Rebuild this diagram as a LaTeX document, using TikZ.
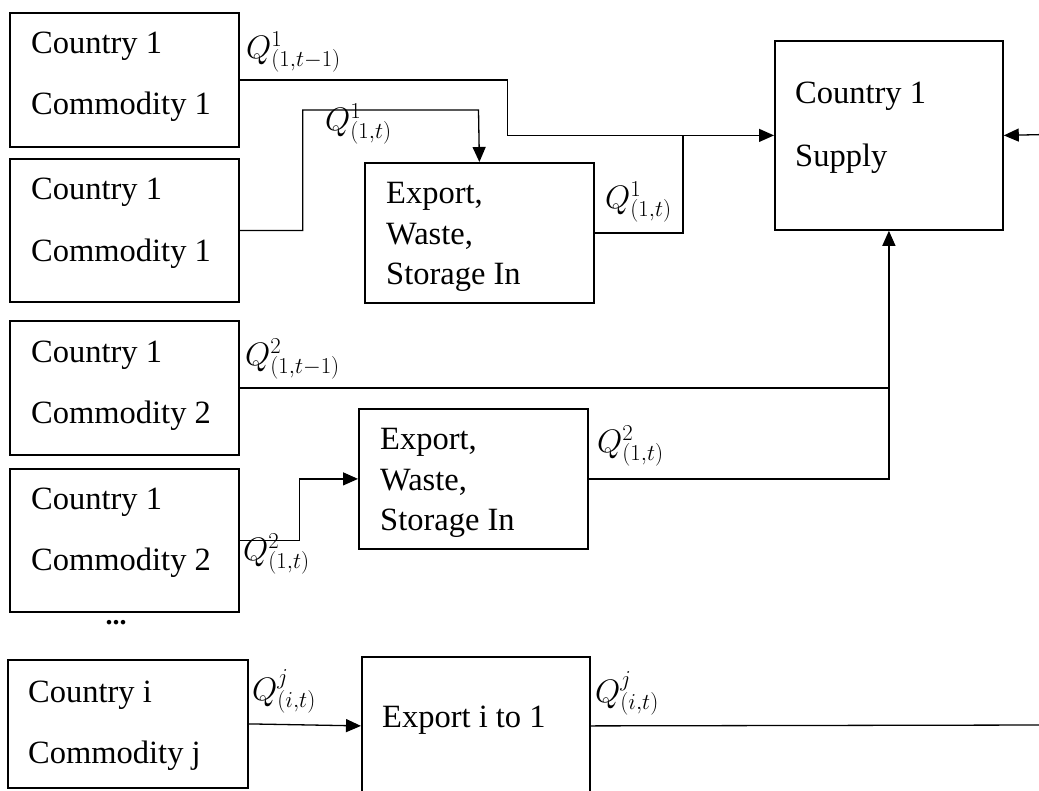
\RequirePackage{fix-cm}
\documentclass[tikz,border=0pt]{standalone}
\usepackage{fontspec}
\setmainfont{Liberation Serif}
\usetikzlibrary{arrows.meta}
\begin{document}
\begin{tikzpicture}[x=1pt,y=-1pt,
  box/.style={draw, line width=1.8pt, inner sep=0pt, anchor=north west},
  txt/.style={anchor=base west, inner sep=0pt, font=\fontsize{32.5}{39}\selectfont},
  lbl/.style={anchor=base west, inner sep=0pt, font=\fontsize{32.5}{39}\selectfont},
  conn/.style={line width=1.3pt},
  arr/.style={conn, -{Triangle[length=15pt,width=13pt]}}]
\clip (0,0) rectangle (1039,790);
% boxes
\node[box, minimum width=229pt, minimum height=134pt] (A) at (9,12) {};
\node[box, minimum width=229pt, minimum height=143pt] (B) at (9,158) {};
\node[box, minimum width=229pt, minimum height=140pt] (E1) at (364,162) {};
\node[box, minimum width=228pt, minimum height=189pt] (S) at (774,40) {};
\node[box, minimum width=229pt, minimum height=134pt] (C) at (9,320) {};
\node[box, minimum width=229pt, minimum height=143pt] (D) at (9,468) {};
\node[box, minimum width=229pt, minimum height=140pt] (E2) at (358,408) {};
\node[box, minimum width=240pt, minimum height=128pt] (F) at (7,659) {};
\node[box, minimum width=228pt, minimum height=138pt] (G) at (361,656) {};
% texts
\node[txt] (tA1) at (31,53) {Country 1};
\node[txt] (tA2) at (31,114) {Commodity 1};
\node[txt] (tB1) at (31,199) {Country 1};
\node[txt] (tB2) at (31,261) {Commodity 1};
\node[txt] (tE11) at (386,203) {Export,};
\node[txt] (tE12) at (386,244) {Waste,};
\node[txt] (tE13) at (386,284) {Storage In};
\node[txt] (tS1) at (795,103) {Country 1};
\node[txt] (tS2) at (795,166) {Supply};
\node[txt] (tC1) at (31,362) {Country 1};
\node[txt] (tC2) at (31,423) {Commodity 2};
\node[txt] (tD1) at (31,509) {Country 1};
\node[txt] (tD2) at (31,570) {Commodity 2};
\node[txt] (tE21) at (380,449) {Export,};
\node[txt] (tE22) at (380,490) {Waste,};
\node[txt] (tE23) at (380,530) {Storage In};
\node[txt] (tF1) at (28,702) {Country i};
\node[txt] (tF2) at (28,763) {Commodity j};
\node[txt] (tG1) at (382,727) {Export i to 1};
\node[font=\fontsize{28}{30}\selectfont\bfseries, anchor=base, inner sep=0pt] (dots) at (116,624) {...};
% labels
\node[lbl] (L1) at (246,58) {$Q^{1}_{(1,t-1)}$};
\node[lbl] (L2) at (325,130) {$Q^{1}_{(1,t)}$};
\node[lbl] (L3) at (605,208) {$Q^{1}_{(1,t)}$};
\node[lbl] (L4) at (245,365) {$Q^{2}_{(1,t-1)}$};
\node[lbl] (L5) at (243,560) {$Q^{2}_{(1,t)}$};
\node[lbl] (L6) at (597,452) {$Q^{2}_{(1,t)}$};
\node[lbl] (L7) at (252,700) {$Q^{j}_{(i,t)}$};
\node[lbl] (L8) at (595,702) {$Q^{j}_{(i,t)}$};
% helper coordinates
\coordinate (j1) at (683,134.5);
\coordinate (b1) at (478.5,110);
\coordinate (r1) at (1045,134.5);
\coordinate (r2) at (1045,725);
% connectors
\draw[arr] (A.east) -- ++(268,0) |- (S.west);
\draw[conn] (E1.east) -| (j1);
\draw[arr] (B.east) -- ++(63,0) |- (b1) -- (E1.north);
\draw[arr] (r1) -- (S.east);
\draw[conn] (C.east) -- (C.east -| S.south);
\draw[arr] (E2.east) -| (S.south);
\draw[arr] (D.east) -- ++(60,0) |- (E2.west);
\draw[arr] (F.east) -- (G.west);
\draw[conn] (G.east) -- (r2);
\end{tikzpicture}
\end{document}
